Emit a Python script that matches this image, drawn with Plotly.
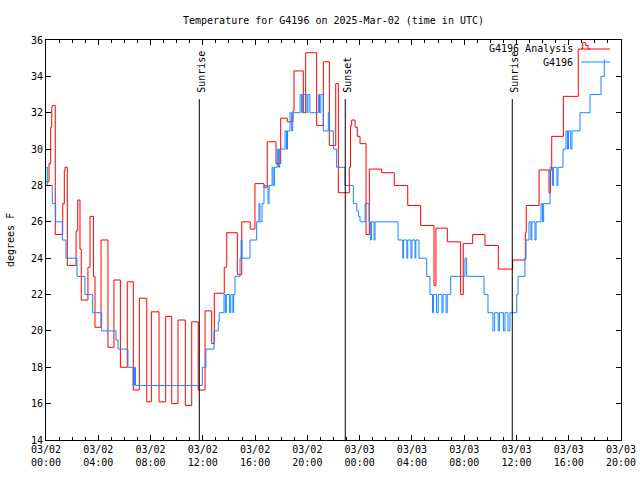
import pandas as pd
import plotly.graph_objects as go

# ---------------- data ----------------
start = pd.Timestamp("2025-03-02 00:00")

# G4196 Analysis (red) : hours since start, temperature F
analysis_hours = [0.00, 0.23, 0.36, 0.44, 0.48, 0.71, 1.28, 1.40, 1.45, 1.63, 2.30, 2.43, 2.60, 2.70,
                  3.21, 3.37, 3.63, 3.75, 4.21, 4.74, 5.20, 5.69, 6.22, 6.68, 7.14, 7.71, 8.06, 8.65,
                  9.16, 9.62, 10.10, 10.66, 11.15, 11.65, 12.17, 12.68, 12.88, 13.64, 13.83, 14.64,
                  14.98, 15.63, 15.99, 16.68, 16.93, 17.60, 17.96, 18.46, 18.90, 18.98, 19.69, 19.87,
                  20.71, 21.22, 21.68, 22.17, 22.37, 23.21, 23.30, 23.39, 23.65, 23.82, 24.03, 24.49,
                  24.74, 25.69, 26.65, 27.68, 28.67, 29.69, 29.84, 30.71, 31.73, 31.93, 32.65, 33.59,
                  34.61, 35.71, 36.68, 36.75, 37.73, 38.49, 38.61, 38.70, 39.59, 40.73, 41.07, 41.30,
                  41.48, 41.63]
analysis_temp = [28.2, 29.2, 31.2, 32.3, 32.4, 25.3, 27.0, 28.8, 29.0, 23.6, 25.5, 27.2, 24.5, 21.7,
                 23.5, 26.3, 23.0, 20.2, 25.0, 19.1, 22.8, 18.0, 22.7, 16.75, 21.8, 16.1, 21.05, 16.1,
                 20.8, 16.0, 20.6, 15.9, 20.5, 16.75, 21.1, 19.3, 22.07, 23.5, 25.4, 23.1,
                 26.0, 25.6, 28.1, 27.9, 30.4, 29.2, 31.7, 31.5, 32.1, 34.3, 32.0, 35.3,
                 31.3, 34.8, 30.2, 33.6, 27.6, 29.0, 31.3, 31.6, 31.2, 30.7, 30.3, 25.3,
                 28.9, 28.7, 28.0, 26.9, 25.8, 22.5, 25.65, 24.9, 22.0, 24.8, 25.3, 24.7,
                 23.4, 23.9, 25.4, 26.9, 28.85, 27.6, 28.85, 30.7, 32.9, 35.5, 35.85, 35.7,
                 35.5, 35.5]

# G4196 station (blue)
station_hours = [0.00, 0.10, 0.48, 0.74, 1.25, 1.53, 2.37, 2.98, 3.57, 4.26, 5.36, 5.51, 6.27, 6.66,
                 6.77, 6.85, 11.96, 12.24, 12.86, 13.18, 13.26, 13.62, 13.72, 13.80, 14.05, 14.14,
                 14.30, 14.36, 14.46, 14.85, 14.93, 15.00, 15.61, 16.12, 16.30, 16.37, 16.53, 16.68,
                 16.99, 17.07, 17.30, 17.38, 17.48, 17.70, 17.80, 17.88, 18.29, 18.40, 18.48, 18.67,
                 18.80, 18.88, 19.44, 19.56, 19.64, 19.97, 20.05, 20.20, 20.84, 20.93, 21.03, 21.22,
                 21.60, 21.69, 21.99, 22.24, 22.88, 23.52, 23.78, 23.91, 24.03, 24.42, 24.72, 24.82,
                 24.90, 25.10, 25.18, 26.94, 27.30, 27.36, 27.62, 27.68, 27.93, 28.00, 28.24, 28.30,
                 28.54, 29.13, 29.38, 29.58, 29.66, 29.88, 30.02, 30.30, 30.38, 30.62, 30.70, 30.97,
                 32.06, 32.19, 33.52, 33.82, 34.20, 34.33, 34.60, 34.70, 35.00, 35.12, 35.35, 35.50,
                 36.02, 36.12, 36.65, 36.73, 36.96, 37.11, 37.18, 37.42, 37.50, 37.88, 38.00, 38.08,
                 38.57, 38.75, 38.83, 39.10, 39.18, 39.56, 39.79, 39.90, 39.98, 40.15, 40.25, 40.86,
                 41.63, 42.47, 42.72, 42.80]
station_temp = [29, 28, 27, 26, 25, 24, 23, 22, 21, 20, 19.5, 19, 18, 17,
                18, 17, 18, 19, 20, 20.5, 21, 22, 21, 22, 21, 22,
                21, 22, 23, 24, 25, 24, 25, 26, 27, 26, 27, 28,
                27, 28, 29, 28, 29, 30, 29, 30, 31, 30, 31, 32,
                31, 32, 33, 32, 33, 32, 33, 32, 33, 32, 33, 31,
                32, 31, 30, 29, 28, 27, 26.6, 26.3, 26, 27, 26, 25,
                26, 25, 26, 25, 24, 25, 24, 25, 24, 25, 24, 25,
                24, 23, 22, 21, 22, 21, 22, 21, 22, 21, 22, 23,
                24, 23, 22, 21, 20, 21, 20, 21, 20, 21, 20, 21,
                22, 23, 24, 25, 26, 25, 26, 25, 26, 27, 26, 27,
                29, 28, 29, 28, 29, 30, 31, 30, 31, 30, 31, 32,
                33, 34, 34.9, 34.9]

events = ["Sunrise", "Sunset", "Sunrise"]
event_hours = [11.73, 22.90, 35.68]

x_tick_hours = [0, 4, 8, 12, 16, 20, 24, 28, 32, 36, 40, 44]
y_ticks = [14, 16, 18, 20, 22, 24, 26, 28, 30, 32, 34, 36]

# ---------------- figure ----------------
def to_time(hours):
    return [start + pd.Timedelta(hours=h) for h in hours]

FONT = "DejaVu Sans Mono"
fig = go.Figure()
fig.add_trace(go.Scatter(x=to_time(analysis_hours), y=analysis_temp, mode="lines",
                         line=dict(color="#ff0000", width=1, shape="hv"),
                         name="G4196 Analysis", showlegend=False))
fig.add_trace(go.Scatter(x=to_time(station_hours), y=station_temp, mode="lines",
                         line=dict(color="#1a85ff", width=1, shape="hv"),
                         name="G4196", showlegend=False))

for name, h in zip(events, event_hours):
    t = start + pd.Timedelta(hours=h)
    fig.add_shape(type="line", x0=t, x1=t, y0=14, y1=32.75, xref="x", yref="y",
                  line=dict(color="black", width=1))
    fig.add_annotation(x=t, y=33.0, xref="x", yref="y", text=name, textangle=-90,
                       showarrow=False, xanchor="center", yanchor="bottom", xshift=2,
                       font=dict(family=FONT, size=10, color="black"))

# legend drawn gnuplot-style
legend_items = [("G4196 Analysis", "#ff0000", 0.9775), ("G4196", "#1a85ff", 0.945)]
for label, col, yp in legend_items:
    fig.add_annotation(x=0.92, y=yp, xref="paper", yref="paper", text=label, showarrow=False,
                       xanchor="right", yanchor="middle",
                       font=dict(family=FONT, size=10, color="black"))
    fig.add_shape(type="line", x0=0.9304, x1=0.981, y0=yp, y1=yp, xref="paper", yref="paper",
                  line=dict(color=col, width=1))

fig.add_annotation(x=-0.0626, y=0.5, xref="paper", yref="paper", text="degrees F",
                   textangle=-90, showarrow=False, xanchor="center", yanchor="middle",
                   font=dict(family=FONT, size=10, color="black"))

tickvals = to_time(x_tick_hours)
ticktext = [t.strftime("%m/%d<br>%H:%M") for t in tickvals]

fig.update_layout(
    width=640, height=480,
    margin=dict(l=46, r=19, t=40, b=40, autoexpand=False),
    paper_bgcolor="white", plot_bgcolor="white",
    title=dict(text="Temperature for G4196 on 2025-Mar-02 (time in UTC)", x=0.5, xref="paper",
               y=0.958, yanchor="middle",
               font=dict(family=FONT, size=10, color="black")),
    font=dict(family=FONT, size=10, color="black"),
    xaxis=dict(range=[tickvals[0], tickvals[-1]], tickvals=tickvals, ticktext=ticktext,
               ticks="inside", ticklen=5, tickcolor="black", mirror="ticks", automargin=False,
               showline=True, linecolor="black", linewidth=1, showgrid=False, zeroline=False,
               minor=dict(dtick=3600000, ticks="inside", ticklen=3, tickcolor="black", showgrid=False),
               tickfont=dict(family=FONT, size=10)),
    yaxis=dict(range=[14, 36], tickvals=y_ticks, ticks="inside", ticklen=5, tickcolor="black",
               mirror="ticks", showline=True, linecolor="black", linewidth=1, showgrid=False,
               zeroline=False, automargin=False, tickfont=dict(family=FONT, size=10)),
)

fig.write_html("out.html", config={"displayModeBar": False},
               post_script="document.body.style.margin='0';document.body.style.overflow='hidden';")
